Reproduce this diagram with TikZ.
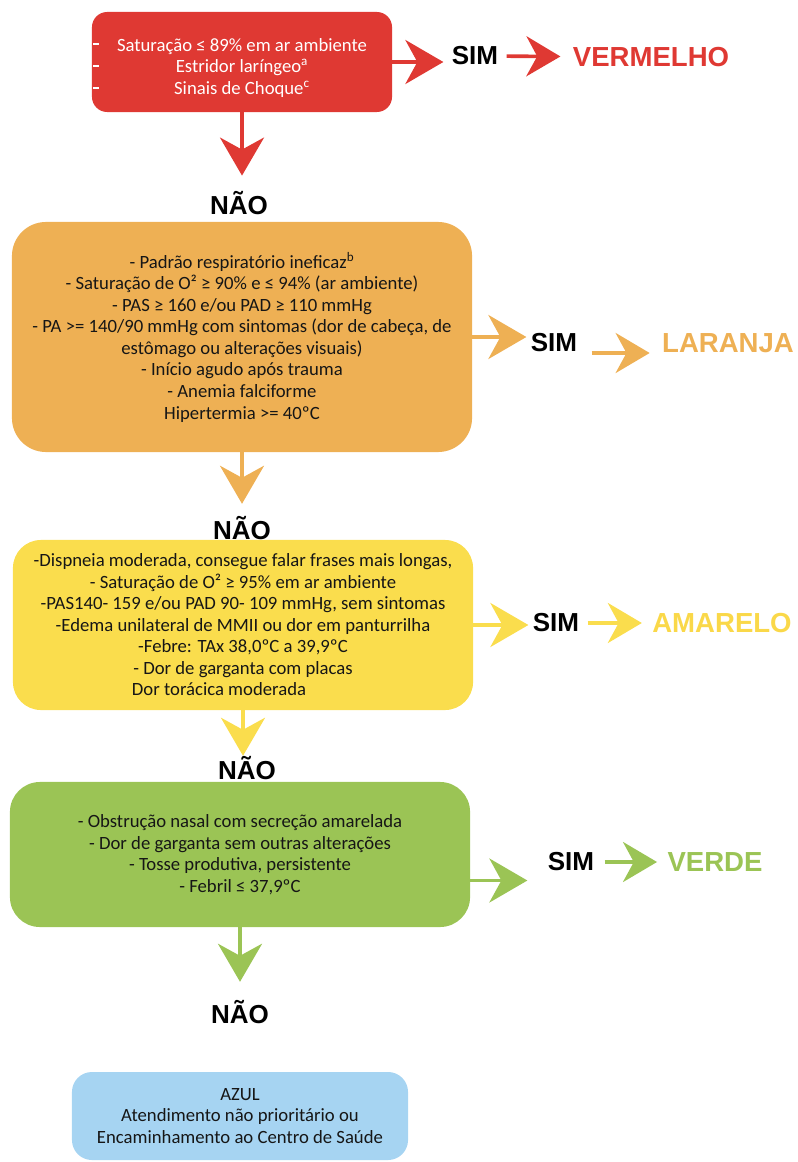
\documentclass[tikz,border=0pt]{standalone}
\usepackage{fontspec}
\setmainfont{Carlito}
\newfontfamily\arialfont{Liberation Sans}
\usepackage{tikz}
\usetikzlibrary{arrows.meta}
\definecolor{TriRed}{RGB}{223,57,51}
\definecolor{TriOrange}{RGB}{238,176,84}
\definecolor{TriYellow}{RGB}{250,221,77}
\definecolor{TriGreen}{RGB}{155,196,85}
\definecolor{TriBlue}{RGB}{166,212,242}
\definecolor{TextDark}{RGB}{22,22,22}

\begin{document}
\begin{tikzpicture}[
    x=0.025cm, y=-0.025cm,
    box/.style={
        rectangle,
        align=center,
        inner sep=0pt,
        text=TextDark,
        font=\fontsize{13.3}{15.3}\selectfont
    },
    answer/.style={
        inner sep=3pt,
        text=black,
        font=\arialfont\bfseries\fontsize{18.5}{20}\selectfont
    },
    level/.style={
        inner sep=3pt,
        font=\arialfont\bfseries\fontsize{19.6}{22}\selectfont
    },
    arrow/.style={
        -{Stealth[length=0.95cm,width=1.1cm,inset=0.3cm]},
        line width=0.09cm
    },
    smallarrow/.style={
        -{Stealth[length=0.85cm,width=1cm,inset=0.27cm]},
        line width=0.09cm
    }
]
\useasboundingbox (0,0) rectangle (797,1162);

% boxes
\node[box, fill=TriRed, rounded corners=0.38cm,
      minimum width=7.5cm, minimum height=2.5cm] (redbox) at (242,62) {};
\node[box, text=white] (redtext) at ([yshift=-0.15cm]redbox.center)
    {Saturação ≤ 89\% em ar ambiente\\
     Estridor laríngeo\textsuperscript{a}\\
     Sinais de Choque\textsuperscript{c}};
\foreach \yy in {44,66,88}
    \draw[white, line width=1.1pt] (93,\yy) -- (99,\yy);

\node[box, fill=TriOrange, rounded corners=0.85cm,
      minimum width=11.5cm, minimum height=5.75cm] (orangebox) at (242,337)
    {- Padrão respiratório ineficaz\textsuperscript{b}\\
     - Saturação de O² ≥ 90\% e ≤ 94\% (ar ambiente)\\
     - PAS ≥ 160 e/ou PAD ≥ 110 mmHg\\
     - PA >= 140/90 mmHg com sintomas (dor de cabeça, de\\
     estômago ou alterações visuais)\\
     - Início agudo após trauma\\
     - Anemia falciforme\\
     Hipertermia >= 40ºC};

\node[box, fill=TriYellow, rounded corners=0.7cm,
      minimum width=11.5cm, minimum height=4.25cm] (yellowbox) at (243,625)
    {-Dispneia moderada, consegue falar frases mais  longas,\\
     - Saturação de O² ≥ 95\% em ar ambiente\\
     -PAS140- 159 e/ou PAD 90- 109 mmHg, sem  sintomas\\
     -Edema unilateral de MMII ou dor em panturrilha\\
     -Febre: TAx 38,0ºC a 39,9ºC\\
     - Dor de garganta com placas\\
     Dor torácica moderada\hspace*{1.2cm}};

\node[box, fill=TriGreen, rounded corners=0.75cm,
      minimum width=11.5cm, minimum height=3.625cm] (greenbox) at (240,854.5)
    {- Obstrução nasal com secreção amarelada\\
     - Dor de garganta sem outras alterações\\
     - Tosse produtiva, persistente\\
     - Febril ≤ 37,9ºC};

\node[box, fill=TriBlue, rounded corners=0.5cm,
      minimum width=8.4cm, minimum height=2.2cm] (bluebox) at (240,1116)
    {AZUL\\
     Atendimento não prioritário ou\\
     Encaminhamento ao Centro de Saúde};

% SIM / NÃO labels
\node[answer] (simRed) at (475,56) {SIM};
\node[level, text=TriRed] (vermelho) at (651,57) {VERMELHO};
\node[answer] (naoRed) at (239,203) {NÃO};

\node[answer] (simOrange) at (554,343) {SIM};
\node[level, text=TriOrange] (laranja) at (728,343) {LARANJA};
\node[answer] (naoOrange) at (242,528) {NÃO};

\node[answer] (simYellow) at (556,623) {SIM};
\node[level, text=TriYellow!95!orange] (amarelo) at (722,623) {AMARELO};
\node[answer] (naoYellow) at (247,768) {NÃO};

\node[answer] (simGreen) at (571,862) {SIM};
\node[level, text=TriGreen] (verde) at (715,862) {VERDE};
\node[answer] (naoGreen) at (240,1012) {NÃO};

\coordinate (greenOut) at ([yshift=-0.65cm]greenbox.east);

% arrows
\draw[arrow, TriRed, shorten >=0.1cm] (redbox.east) -- (redbox.east -| simRed.west);
\draw[smallarrow, TriRed, shorten <=0.1cm, shorten >=0.2cm] (simRed) -- (vermelho);
\draw[arrow, TriRed, shorten >=0.28cm] (redbox.south) -- (redbox.south |- naoRed.north);

\draw[arrow, TriOrange] (orangebox.east) -- (orangebox.east -| simOrange.west);
\draw[smallarrow, TriOrange, shorten <=0.25cm, shorten >=0.2cm]
    ([yshift=-0.25cm]simOrange.east) -- ([yshift=-0.25cm]laranja.west);
\draw[arrow, TriOrange, shorten >=0.2cm] (orangebox.south) -- (orangebox.south |- naoOrange.north);

\draw[arrow, TriYellow] (yellowbox.east) -- (yellowbox.east -| simYellow.west);
\draw[smallarrow, TriYellow, shorten <=0.1cm, shorten >=0.15cm] (simYellow) -- (amarelo);
\draw[arrow, TriYellow, shorten >=-0.1cm] (yellowbox.south) -- (yellowbox.south |- naoYellow.north);

\draw[arrow, TriGreen, shorten >=0.4cm] (greenOut) -- (greenOut -| simGreen.west);
\draw[smallarrow, TriGreen, shorten <=0.15cm, shorten >=0.15cm] (simGreen) -- (verde);
\draw[arrow, TriGreen, shorten >=0.35cm] (greenbox.south) -- (greenbox.south |- naoGreen.north);

\end{tikzpicture}
\end{document}
